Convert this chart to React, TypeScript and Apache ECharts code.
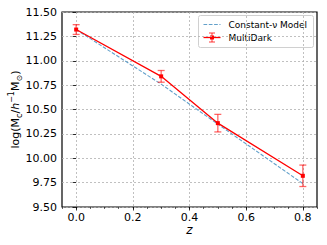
import React, { useEffect, useRef } from "react";
import * as echarts from "echarts";

const zValues = [0.0, 0.3, 0.5, 0.8];
const multiDark = [11.32, 10.84, 10.36, 9.82];
const multiDarkErr = [0.05, 0.06, 0.09, 0.11];
const modelZ = [0.0, 0.3, 0.5, 0.8];
const modelValues = [11.32, 10.76, 10.35, 9.74];
const xMin = -0.05;
const xMax = 0.85;
const yMin = 9.5;
const yMax = 11.5;
const xTickLabels = ["0.0", "0.2", "0.4", "0.6", "0.8"];

const FONT = "DejaVu Sans";
const W = 327;
const H = 245;
const GL = 62, GR = 10, GT = 12, GB = 38;

export default function App() {
  const ref = useRef<HTMLDivElement>(null);
  useEffect(() => {
    if (!ref.current) return;
    const chart = echarts.init(ref.current, undefined, { renderer: "svg" });
    const plotW = W - GL - GR;
    const pxPerUnit = plotW / (xMax - xMin);
    const g1Left = GL + (0 - xMin) * pxPerUnit;
    const g1Right = GR + (xMax - 0.8) * pxPerUnit;

    const lx = 198, ly = 15;
    chart.setOption({
      animation: false,
      backgroundColor: "#fff",
      textStyle: { fontFamily: FONT },
      grid: [
        { left: GL, right: GR, top: GT, bottom: GB, show: true, borderColor: "#000", borderWidth: 1.2, backgroundColor: "transparent", containLabel: false, outerBoundsMode: "none" },
        { left: g1Left, right: g1Right, top: GT, bottom: GB, show: false, containLabel: false, outerBoundsMode: "none" },
      ],
      xAxis: [
        {
          type: "value", gridIndex: 0, min: xMin, max: xMax, interval: 0.05,
          axisLine: { show: false },
          axisTick: { show: true, inside: false, length: 2, lineStyle: { color: "#000", width: 0.6 } },
          axisLabel: { show: false },
          splitLine: { show: false },
        },
        {
          type: "value", gridIndex: 1, min: 0, max: 0.8, interval: 0.2,
          axisLine: { show: false },
          axisTick: { show: true, inside: false, length: 3.5, lineStyle: { color: "#000", width: 0.8 } },
          axisLabel: {
            show: true, color: "#000", fontSize: 11, lineHeight: 12, fontFamily: FONT, margin: 4,
            formatter: (v: number) => xTickLabels[Math.round(v / 0.2)] ?? "",
          },
          splitLine: { show: true, lineStyle: { color: "#b0b0b0", type: [2, 2], width: 0.8 } },
          name: "z", nameLocation: "middle", nameGap: 17, nameMoveOverlap: false,
          nameTextStyle: { fontSize: 12, lineHeight: 12, fontStyle: "italic", color: "#000", fontFamily: FONT },
        },
      ],
      yAxis: [
        {
          type: "value", gridIndex: 0, min: yMin, max: yMax, interval: 0.25,
          axisLine: { show: false },
          axisTick: { show: true, inside: false, length: 3.5, lineStyle: { color: "#000", width: 0.8 } },
          axisLabel: { color: "#000", fontSize: 11, fontFamily: FONT, margin: 5, formatter: (v: number) => v.toFixed(2) },
          splitLine: { show: true, lineStyle: { color: "#b0b0b0", type: [2, 2], width: 0.8 } },
          name: "{a|log(M}{b|c}{a|/}{i|h}{c|−1}{a|M}{b|⊙}{a|)}",
          nameLocation: "middle", nameGap: 39, nameMoveOverlap: false,
          nameTextStyle: {
            color: "#000",
            rich: {
              a: { fontSize: 11, fontFamily: FONT, color: "#000", lineHeight: 16, verticalAlign: "middle" },
              i: { fontSize: 11, fontFamily: FONT, fontStyle: "italic", color: "#000", lineHeight: 16, verticalAlign: "middle" },
              b: { fontSize: 8, fontFamily: FONT, color: "#000", lineHeight: 9, verticalAlign: "bottom" },
              c: { fontSize: 8, fontFamily: FONT, color: "#000", lineHeight: 9, verticalAlign: "top" },
            },
          },
        },
        { type: "value", gridIndex: 1, min: yMin, max: yMax, show: false },
      ],
      series: [
        {
          name: "Constant-ν Model", type: "line", xAxisIndex: 0, yAxisIndex: 0,
          data: modelZ.map((z, i) => [z, modelValues[i]]),
          symbol: "none",
          lineStyle: { color: "#62a0ca", width: 1.1, type: [3.7, 1.6] },
          z: 2,
        },
        {
          name: "MultiDark-err", type: "custom", xAxisIndex: 0, yAxisIndex: 0,
          data: zValues.map((z, i) => [z, multiDark[i] - multiDarkErr[i], multiDark[i] + multiDarkErr[i]]),
          renderItem: (params: any, api: any) => {
            const lo = api.coord([api.value(0), api.value(1)]);
            const hi = api.coord([api.value(0), api.value(2)]);
            const cw = 3.5;
            const st = { stroke: "rgba(255,0,0,0.6)", lineWidth: 1.3 };
            return {
              type: "group",
              children: [
                { type: "line", shape: { x1: lo[0], y1: lo[1], x2: hi[0], y2: hi[1] }, style: st },
                { type: "line", shape: { x1: lo[0] - cw, y1: lo[1], x2: lo[0] + cw, y2: lo[1] }, style: st },
                { type: "line", shape: { x1: hi[0] - cw, y1: hi[1], x2: hi[0] + cw, y2: hi[1] }, style: st },
              ],
            };
          },
          z: 3,
        },
        {
          name: "MultiDark", type: "line", xAxisIndex: 0, yAxisIndex: 0,
          data: zValues.map((z, i) => [z, multiDark[i]]),
          symbol: "rect", symbolSize: 4,
          itemStyle: { color: "#ff0000" },
          lineStyle: { color: "#ff0000", width: 1.3 },
          z: 4,
        },
      ],
      graphic: [
        {
          type: "group", left: lx, top: ly,
          children: [
            { type: "rect", shape: { x: 0, y: 0, width: 115, height: 32, r: 2 }, style: { fill: "rgba(255,255,255,0.8)", stroke: "#d0d0d0", lineWidth: 1 } },
            { type: "line", shape: { x1: 5, y1: 9, x2: 22, y2: 9 }, style: { stroke: "#62a0ca", lineWidth: 1.1, lineDash: [3.7, 1.6] } },
            { type: "text", x: 30, y: 9, style: { text: "Constant-ν Model", fontSize: 9, fontFamily: FONT, fill: "#000", verticalAlign: "middle", align: "left" } },
            { type: "line", shape: { x1: 5, y1: 22, x2: 22, y2: 22 }, style: { stroke: "#ff0000", lineWidth: 1.3 } },
            { type: "line", shape: { x1: 13.5, y1: 17.5, x2: 13.5, y2: 26.5 }, style: { stroke: "rgba(255,0,0,0.6)", lineWidth: 1.3 } },
            { type: "line", shape: { x1: 10.5, y1: 17.5, x2: 16.5, y2: 17.5 }, style: { stroke: "rgba(255,0,0,0.6)", lineWidth: 1.3 } },
            { type: "line", shape: { x1: 10.5, y1: 26.5, x2: 16.5, y2: 26.5 }, style: { stroke: "rgba(255,0,0,0.6)", lineWidth: 1.3 } },
            { type: "rect", shape: { x: 11.5, y: 20, width: 4, height: 4 }, style: { fill: "#ff0000" } },
            { type: "text", x: 30, y: 22, style: { text: "MultiDark", fontSize: 9, fontFamily: FONT, fill: "#000", verticalAlign: "middle", align: "left" } },
          ],
        },
      ],
    });
    return () => chart.dispose();
  }, []);
  return <div ref={ref} style={{ width: W, height: H, position: "absolute", left: 0, top: 0 }} />;
}
